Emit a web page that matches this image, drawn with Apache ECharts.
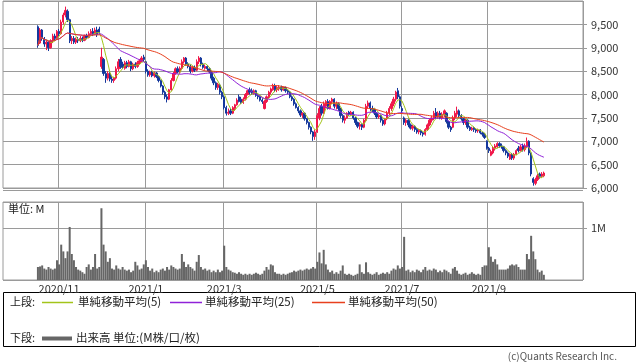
<!DOCTYPE html>
<html><head><meta charset="utf-8">
<script src="https://cdn.jsdelivr.net/npm/echarts/dist/echarts.min.js"></script>
<style>html,body{margin:0;padding:0;background:#fff}#c{width:638px;height:362px}</style>
</head><body><div id="c"></div>
<script>
// ---- data ----
const slotCount = 274;               // trading-day slots on the x axis
const firstSlot = 16;                // slot of the first trading day shown
const monthStartSlots = [26, 67, 104, 148, 188, 229];
const monthLabels = ['2020/11','2021/1','2021/3','2021/5','2021/7','2021/9'];
const priceTicks = [6000, 10000, 500];
const volumeTicks = [0, 1.5, 1];

const opens = [
9450,9100,9380,9200,9080,9120,9000,9150,9250,9200,
9350,9300,9550,9700,9780,9600,9150,9200,9120,9180,
9150,9200,9160,9250,9220,9300,9350,9300,9380,9400,
8600,8750,8450,8350,8450,8330,8300,8350,8550,8750,
8650,8560,8680,8600,8700,8550,8650,8600,8680,8720,
8800,8700,8500,8420,8480,8400,8460,8380,8300,8180,
8050,7950,7900,8100,8300,8450,8550,8480,8560,8700,
8780,8650,8600,8500,8580,8520,8700,8780,8650,8560,
8600,8550,8480,8350,8250,8150,8200,8050,7950,7720,
7600,7650,7600,7700,7780,7950,7900,7830,7900,8000,
8100,8080,8020,8080,7980,7950,7880,7700,7850,7950,
8050,8100,8180,8100,8120,8160,8100,8150,8080,8050,
7950,7900,7800,7720,7650,7560,7600,7480,7400,7300,
7200,7100,7200,7500,7750,7600,7750,7850,7700,7850,
7900,7750,7800,7700,7550,7450,7500,7620,7580,7620,
7500,7400,7320,7360,7300,7450,7750,7820,7700,7680,
7600,7520,7550,7450,7370,7480,7600,7700,7800,7900,
8080,7950,7700,7500,7400,7450,7350,7280,7320,7250,
7200,7230,7180,7150,7250,7350,7450,7500,7620,7520,
7600,7500,7560,7600,7420,7300,7300,7500,7580,7650,
7550,7480,7400,7450,7300,7250,7280,7250,7220,7240,
7180,7150,7000,6850,6700,6750,6850,6880,6950,6900,
6880,6800,6750,6620,6720,6640,6720,6850,6800,6900,
6820,6900,7000,6750,6200,6100,6180,6300,6250,6260];
const closes = [
9050,9380,9200,9080,9120,9000,9150,9250,9200,9350,
9300,9550,9700,9800,9600,9150,9200,9120,9180,9150,
9200,9160,9250,9220,9300,9350,9300,9380,9280,9330,
8800,8450,8350,8450,8330,8300,8350,8550,8700,8600,
8580,8680,8600,8700,8550,8650,8600,8680,8720,8780,
8750,8500,8420,8480,8400,8460,8380,8300,8180,8050,
7950,7900,8100,8300,8450,8550,8480,8560,8700,8780,
8650,8600,8500,8580,8520,8700,8780,8650,8580,8600,
8550,8480,8350,8250,8150,8220,8050,7950,7720,7600,
7620,7600,7720,7780,7880,7850,7830,7900,8000,8080,
8050,8020,8080,7980,7950,7880,7850,7850,7950,8050,
8120,8180,8100,8150,8160,8100,8150,8080,8050,7950,
7900,7800,7720,7650,7560,7600,7480,7400,7300,7200,
7100,7200,7550,7700,7600,7800,7850,7700,7850,7900,
7750,7800,7700,7550,7450,7500,7600,7580,7620,7500,
7400,7320,7360,7300,7450,7750,7820,7700,7680,7600,
7520,7550,7450,7370,7480,7600,7700,7800,7900,8050,
7950,7750,7650,7400,7450,7350,7280,7320,7250,7200,
7230,7180,7150,7250,7350,7450,7500,7600,7520,7600,
7500,7580,7650,7420,7300,7250,7500,7600,7650,7550,
7480,7400,7450,7300,7250,7280,7250,7220,7240,7180,
7150,7080,6850,6800,6780,6850,6900,6950,6900,6880,
6800,6750,6680,6720,6640,6720,6800,6800,6880,6820,
6900,7000,6750,6300,6120,6180,6260,6250,6300,6320];
const lows = [
9000,9080,9150,9020,8950,8930,8980,9100,9150,9180,
9250,9280,9500,9650,9550,9100,9080,9080,9080,9100,
9120,9120,9140,9180,9200,9260,9250,9280,9230,9280,
8550,8400,8250,8300,8280,8250,8250,8320,8500,8550,
8550,8530,8560,8580,8500,8520,8560,8570,8640,8690,
8700,8450,8380,8380,8370,8360,8350,8260,8150,8000,
7900,7830,7880,8080,8280,8420,8450,8450,8540,8660,
8620,8560,8450,8470,8480,8500,8650,8600,8550,8530,
8500,8450,8300,8200,8100,8100,8000,7900,7680,7550,
7560,7560,7580,7650,7760,7830,7800,7800,7870,7980,
8000,7990,8000,7950,7900,7850,7800,7680,7820,7920,
8000,8080,8050,8050,8080,8060,8080,8040,8010,7920,
7860,7760,7700,7600,7520,7500,7440,7360,7250,7150,
7010,7030,7180,7450,7550,7580,7700,7680,7680,7800,
7700,7680,7650,7500,7400,7380,7480,7540,7550,7460,
7350,7280,7250,7240,7280,7420,7700,7650,7620,7560,
7480,7480,7400,7330,7340,7450,7560,7650,7750,7850,
7900,7700,7600,7350,7330,7300,7250,7230,7200,7160,
7150,7130,7100,7120,7220,7320,7400,7450,7480,7480,
7470,7460,7520,7380,7260,7200,7280,7450,7520,7500,
7440,7350,7350,7260,7220,7220,7200,7180,7180,7150,
7100,7050,6820,6750,6680,6720,6800,6850,6860,6840,
6760,6700,6640,6600,6600,6600,6700,6760,6780,6780,
6780,6850,6700,6250,6050,6060,6150,6200,6220,6230];
const highs = [
9480,9420,9400,9230,9160,9140,9180,9300,9300,9380,
9400,9600,9750,9880,9820,9620,9250,9250,9220,9230,
9250,9240,9280,9300,9350,9400,9420,9430,9450,9450,
9000,8780,8500,8500,8480,8400,8380,8600,8760,8800,
8700,8720,8720,8740,8720,8680,8690,8720,8760,8820,
8850,8720,8540,8510,8510,8490,8480,8400,8320,8200,
8080,8000,8120,8350,8480,8580,8600,8600,8750,8800,
8800,8690,8640,8610,8620,8750,8820,8800,8680,8640,
8630,8580,8500,8380,8280,8250,8230,8080,7980,7760,
7700,7700,7750,7800,7920,8000,7950,7940,8030,8100,
8150,8130,8110,8100,8000,7980,7920,7880,7980,8080,
8150,8230,8230,8180,8200,8190,8170,8170,8110,8070,
7980,7920,7830,7750,7680,7620,7620,7500,7420,7320,
7220,7250,7600,7750,7800,7850,7880,7900,7880,7930,
7920,7850,7830,7720,7580,7550,7620,7650,7650,7640,
7520,7420,7400,7380,7480,7800,7870,7850,7760,7700,
7620,7580,7560,7470,7500,7650,7750,7850,7950,8080,
8140,7980,7750,7530,7480,7470,7380,7350,7340,7280,
7260,7250,7200,7280,7380,7480,7550,7650,7710,7640,
7650,7620,7680,7620,7440,7330,7550,7650,7740,7680,
7580,7500,7480,7470,7330,7310,7300,7280,7270,7260,
7200,7180,7020,6880,6820,6880,6940,6980,6980,6950,
6900,6830,6780,6740,6750,6750,6830,6900,6920,6950,
6950,7080,7020,6760,6230,6220,6300,6330,6340,6350];
const volumesM = [
0.25,0.26,0.28,0.22,0.20,0.25,0.22,0.20,0.22,0.38,
0.30,0.68,0.55,0.42,0.55,1.02,0.50,0.38,0.25,0.20,
0.18,0.15,0.12,0.25,0.30,0.20,0.25,0.50,0.22,0.25,
1.38,0.68,0.55,0.35,0.42,0.22,0.20,0.28,0.22,0.20,
0.25,0.20,0.18,0.20,0.15,0.18,0.35,0.28,0.20,0.22,
0.30,0.38,0.25,0.18,0.22,0.15,0.18,0.15,0.20,0.22,
0.18,0.25,0.20,0.28,0.25,0.22,0.20,0.22,0.50,0.35,
0.25,0.30,0.25,0.22,0.18,0.35,0.48,0.25,0.20,0.22,
0.18,0.20,0.15,0.18,0.15,0.20,0.15,0.18,0.66,0.25,
0.20,0.18,0.15,0.14,0.12,0.15,0.12,0.10,0.12,0.10,
0.12,0.10,0.12,0.14,0.12,0.10,0.12,0.18,0.25,0.20,
0.30,0.28,0.15,0.12,0.12,0.10,0.12,0.10,0.12,0.14,
0.15,0.18,0.16,0.18,0.20,0.18,0.20,0.22,0.20,0.22,
0.25,0.22,0.35,0.53,0.32,0.58,0.30,0.20,0.15,0.18,
0.12,0.15,0.12,0.18,0.28,0.12,0.10,0.12,0.10,0.08,
0.10,0.12,0.30,0.15,0.12,0.34,0.15,0.12,0.10,0.12,
0.15,0.10,0.12,0.14,0.12,0.15,0.12,0.18,0.22,0.20,
0.28,0.22,0.25,0.83,0.18,0.20,0.15,0.18,0.15,0.20,
0.18,0.15,0.20,0.25,0.18,0.20,0.18,0.22,0.20,0.15,
0.18,0.15,0.20,0.18,0.15,0.12,0.22,0.25,0.18,0.12,
0.10,0.12,0.14,0.10,0.12,0.15,0.12,0.10,0.12,0.10,
0.25,0.28,0.28,0.63,0.45,0.35,0.40,0.30,0.20,0.20,
0.20,0.20,0.22,0.28,0.30,0.28,0.30,0.25,0.20,0.20,
0.20,0.50,0.40,0.85,0.55,0.40,0.20,0.15,0.18,0.10];
const maPeriods = [5, 25, 50];
const seriesNames = ['単純移動平均(5)','単純移動平均(25)','単純移動平均(50)'];

// ---- build ----
const cats = Array.from({length: slotCount}, (_, i) => String(i));
const labelOf = {};
monthStartSlots.forEach((s, k) => labelOf[s] = monthLabels[k]);
const isMonth = (idx) => labelOf[idx] !== undefined;
function pad(arr) {
  const out = new Array(slotCount).fill('-');
  arr.forEach((v, k) => out[firstSlot + k] = v);
  return out;
}
function ma(n) {
  return closes.map((_, i) => {
    const s = Math.max(0, i - n + 1);
    let sum = 0;
    for (let k = s; k <= i; k++) sum += closes[k];
    return +(sum / (i - s + 1)).toFixed(1);
  });
}
const ohlc = pad(closes.map((c, i) => [opens[i], c, lows[i], highs[i]]));
const vols = pad(volumesM);
const maColors = ['#a3c41a', '#9022d8', '#e8401e'];
const UP = '#f0184a', DOWN = '#15389c', GRID = '#9a9a9a';
const FONT = "'Noto Sans CJK JP','Noto Sans',sans-serif";

const chart = echarts.init(document.getElementById('c'), null, {renderer: 'canvas'});
const xBase = {
  type: 'category', data: cats, boundaryGap: true,
  axisLine: {show: false}, axisTick: {show: false},
  splitLine: {show: true, interval: isMonth, lineStyle: {color: GRID, width: 1}}
};
const yBase = {
  position: 'right', axisLine: {show: false},
  axisTick: {show: true, length: 4, lineStyle: {color: GRID}},
  splitLine: {show: true, lineStyle: {color: GRID, width: 1}},
  axisLabel: {color: '#333', fontSize: 11, fontFamily: FONT, margin: 8}
};
chart.setOption({
  animation: false,
  backgroundColor: '#fff',
  grid: [
    {left: 3, top: 1, width: 580, height: 187, show: true, borderColor: GRID, borderWidth: 1, backgroundColor: 'transparent'},
    {left: 3, top: 202, width: 580, height: 78, show: true, borderColor: GRID, borderWidth: 1, backgroundColor: 'transparent'}
  ],
  xAxis: [
    Object.assign({}, xBase, {gridIndex: 0, axisLabel: {show: false}}),
    Object.assign({}, xBase, {gridIndex: 1, axisLabel: {show: true, interval: isMonth,
      formatter: (v, i) => labelOf[i] || '', color: '#333', fontSize: 11, fontFamily: FONT, margin: 3}})
  ],
  yAxis: [
    Object.assign({}, yBase, {gridIndex: 0, min: priceTicks[0], max: priceTicks[1], interval: priceTicks[2],
      axisLabel: Object.assign({}, yBase.axisLabel, {showMaxLabel: false,
        formatter: v => v.toLocaleString('en-US')})}),
    Object.assign({}, yBase, {gridIndex: 1, min: volumeTicks[0], max: volumeTicks[1], interval: volumeTicks[2],
      axisLabel: Object.assign({}, yBase.axisLabel, {showMaxLabel: false, showMinLabel: false,
        formatter: v => v === 1 ? '1M' : ''})})
  ],
  series: [
    {type: 'candlestick', xAxisIndex: 0, yAxisIndex: 0, data: ohlc, barWidth: 1.8,
      itemStyle: {color: UP, color0: DOWN, borderColor: UP, borderColor0: DOWN, borderWidth: 1}},
    ...maPeriods.map((p, k) => ({
      type: 'line', name: seriesNames[k], xAxisIndex: 0, yAxisIndex: 0, data: pad(ma(p)),
      showSymbol: false, symbol: 'none', smooth: false,
      lineStyle: {color: maColors[k], width: 1}, z: 3
    })),
    {type: 'bar', xAxisIndex: 1, yAxisIndex: 1, data: vols, barWidth: '95%',
      itemStyle: {color: '#666'}}
  ],
  graphic: [
    {type: 'line', shape: {x1: 3, y1: 190.5, x2: 583, y2: 190.5}, style: {stroke: GRID, lineWidth: 1}, silent: true},
    {type: 'text', left: 8, top: 203, style: {text: '単位: M', font: "11px " + FONT, fill: '#222'}},
    {type: 'rect', shape: {x: 3.5, y: 292.5, width: 632, height: 54}, style: {fill: 'none', stroke: '#000', lineWidth: 1}},
    {type: 'text', x: 10, y: 302, style: {text: '上段:', font: "11px " + FONT, fill: '#222', textVerticalAlign: 'middle'}},
    {type: 'line', shape: {x1: 42, y1: 302.5, x2: 73, y2: 302.5}, style: {stroke: maColors[0], lineWidth: 1.5}},
    {type: 'text', x: 78, y: 302, style: {text: seriesNames[0], font: "11.5px " + FONT, fill: '#222', textVerticalAlign: 'middle'}},
    {type: 'line', shape: {x1: 170, y1: 302.5, x2: 202, y2: 302.5}, style: {stroke: maColors[1], lineWidth: 1.5}},
    {type: 'text', x: 205, y: 302, style: {text: seriesNames[1], font: "11.5px " + FONT, fill: '#222', textVerticalAlign: 'middle'}},
    {type: 'line', shape: {x1: 312, y1: 302.5, x2: 345, y2: 302.5}, style: {stroke: maColors[2], lineWidth: 1.5}},
    {type: 'text', x: 348, y: 302, style: {text: seriesNames[2], font: "11.5px " + FONT, fill: '#222', textVerticalAlign: 'middle'}},
    {type: 'text', x: 10, y: 338, style: {text: '下段:', font: "11px " + FONT, fill: '#222', textVerticalAlign: 'middle'}},
    {type: 'line', shape: {x1: 42, y1: 338.5, x2: 72, y2: 338.5}, style: {stroke: '#666', lineWidth: 4}},
    {type: 'text', x: 76, y: 338, style: {text: '出来高 単位:(M株/口/枚)', font: "11.5px " + FONT, fill: '#222', textVerticalAlign: 'middle'}},
    {type: 'text', x: 617, y: 356, style: {text: '(c)Quants Research Inc.', font: "10px " + FONT, fill: '#555', textAlign: 'right', textVerticalAlign: 'middle'}}
  ]
});
</script>
</body></html>
